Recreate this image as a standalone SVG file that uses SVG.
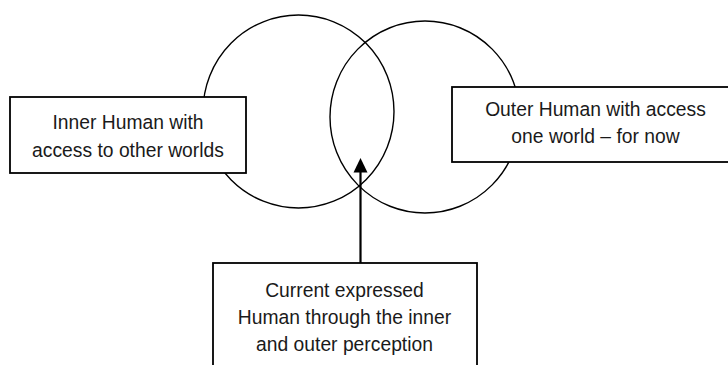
<svg xmlns="http://www.w3.org/2000/svg" width="728" height="365" viewBox="0 0 728 365">
<style>
.c{fill:none;stroke:#000;stroke-width:1.4}
.b{fill:#fff;stroke:#000;stroke-width:1.8}
.t{font-family:"Liberation Sans",Arial,sans-serif;font-size:19.3px;fill:#1a1a1a;text-anchor:middle}
.a{stroke:#000;stroke-width:2.2;fill:none}
</style>
<g id="circles">
<ellipse id="inner-circle" class="c" cx="298.5" cy="111.5" rx="95.5" ry="96.5"/>
<ellipse id="outer-circle" class="c" cx="425" cy="117" rx="95" ry="96"/>
</g>
<g id="connectors">
<line class="a" x1="360.5" y1="263" x2="360.5" y2="170"/>
<path d="M353.5,172.5 L360.5,158 L367.5,172.5 Z" fill="#000"/>
</g>
<g id="inner-box">
<rect class="b" x="10" y="97" width="236" height="76"/>
<text class="t" x="128" y="128.5">Inner Human with</text>
<text class="t" x="128" y="156.5">access to other worlds</text>
</g>
<g id="outer-box">
<rect class="b" x="452" y="87" width="290" height="75"/>
<text class="t" x="595.5" y="116">Outer Human with access</text>
<text class="t" x="595.5" y="143">one world – for now</text>
</g>
<g id="current-box">
<rect class="b" x="213" y="263" width="264" height="120"/>
<text class="t" x="344.5" y="297">Current expressed</text>
<text class="t" x="344.5" y="324">Human through the inner</text>
<text class="t" x="344.5" y="350.5">and outer perception</text>
</g>
</svg>
